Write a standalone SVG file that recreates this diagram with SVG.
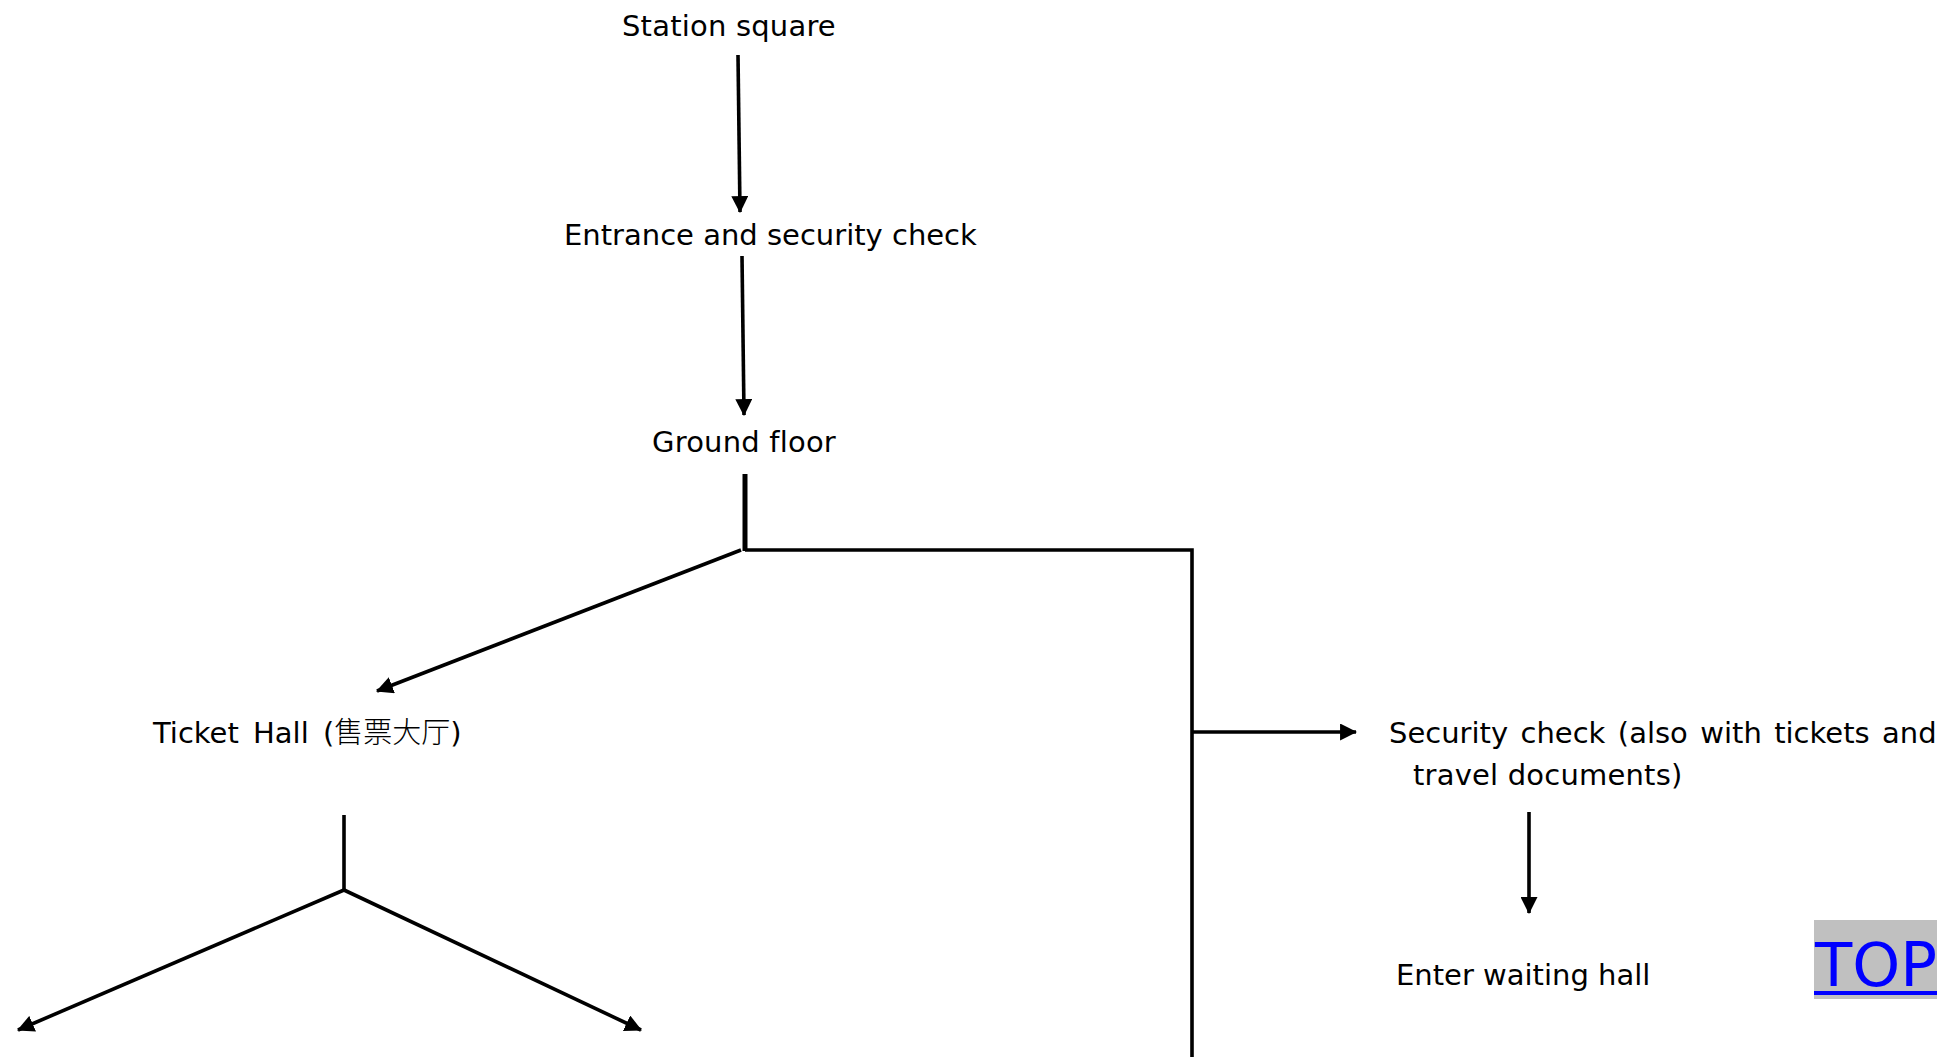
<svg xmlns="http://www.w3.org/2000/svg" width="1944" height="1057" viewBox="0 0 1944 1057">
  <style>
    .t { font-family: "DejaVu Sans", Verdana, "Noto Sans CJK SC", sans-serif; font-size: 29px; fill: #000; }
    .cjk { font-family: "Noto Sans CJK SC", sans-serif; font-weight: 300; }
    .ln { stroke: #000; stroke-width: 3.6; fill: none; }
    .thick { stroke-width: 5; }
    .top { font-family: "DejaVu Sans", sans-serif; font-size: 61px; fill: #0000ff; }
  </style>
  <defs>
    <marker id="ah" markerUnits="userSpaceOnUse" markerWidth="17" markerHeight="17" viewBox="0 0 16 16" refX="15" refY="8" orient="auto">
      <path d="M0,0 L16,8 L0,16 Z" fill="#000"/>
    </marker>
  </defs>
  <rect width="1944" height="1057" fill="#fff"/>

  <g id="connectors">
    <line class="ln" x1="738" y1="55" x2="740" y2="212" marker-end="url(#ah)"/>
    <line class="ln" x1="742" y1="256" x2="744" y2="415" marker-end="url(#ah)"/>
    <line class="ln thick" x1="745" y1="474" x2="745" y2="551"/>
    <polyline class="ln" points="745,550 1192,550 1192,1057"/>
    <line class="ln" x1="741" y1="550" x2="377" y2="691" marker-end="url(#ah)"/>
    <line class="ln" x1="1192" y1="732" x2="1356" y2="732" marker-end="url(#ah)"/>
    <line class="ln" x1="1529" y1="812" x2="1529" y2="913" marker-end="url(#ah)"/>
    <line class="ln" x1="344" y1="815" x2="344" y2="891" stroke-width="4"/>
    <line class="ln" x1="344" y1="890" x2="18" y2="1030" marker-end="url(#ah)"/>
    <line class="ln" x1="344" y1="890" x2="641" y2="1030" marker-end="url(#ah)"/>
  </g>

  <g id="station-square">
    <text class="t" x="622" y="36" letter-spacing="0.2">Station square</text>
  </g>
  <g id="entrance">
    <text class="t" x="564" y="245">Entrance and security check</text>
  </g>
  <g id="ground-floor">
    <text class="t" x="652" y="452" letter-spacing="0.2">Ground floor</text>
  </g>
  <g id="ticket-hall">
    <text class="t" x="153" y="743" word-spacing="5">Ticket Hall (<tspan class="cjk">售票大厅</tspan>)</text>
  </g>
  <g id="security-check">
    <text class="t" x="1389" y="743" word-spacing="3.2">Security check (also with tickets and</text>
    <text class="t" x="1413" y="785" letter-spacing="0.2">travel documents)</text>
  </g>
  <g id="waiting-hall">
    <text class="t" x="1396" y="985">Enter waiting hall</text>
  </g>
  <g id="top-link">
    <rect x="1814" y="920" width="123" height="79" fill="#c0c0c0"/>
    <text class="top" x="1815" y="986">TOP</text>
    <line x1="1814" y1="993" x2="1937" y2="993" stroke="#0000ff" stroke-width="4"/>
  </g>
</svg>
